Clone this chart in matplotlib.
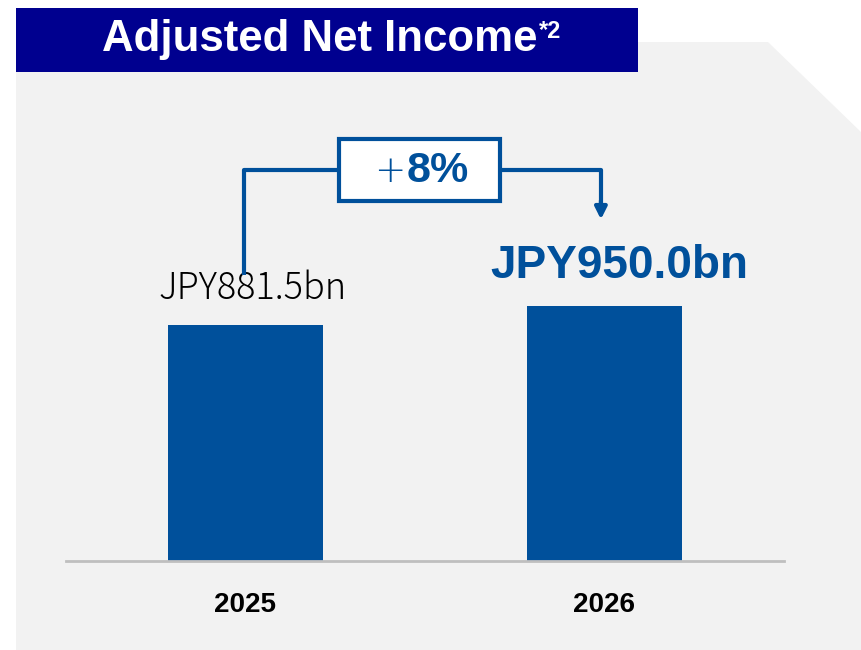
import matplotlib
matplotlib.use("Agg")
import matplotlib.pyplot as plt
from matplotlib.patches import Polygon, Rectangle

# ---- data ----
years = ["2025", "2026"]
values = [881.5, 950.0]
value_labels = ["JPY881.5bn", "JPY950.0bn"]
growth_label = "8%"
title = "Adjusted Net Income"
title_note = "*2"

BLUE = "#00509b"
NAVY = "#00008f"
GREY = "#f2f2f2"

W, H = 862, 650
fig = plt.figure(figsize=(W / 100, H / 100), dpi=100)
fig.patch.set_facecolor("white")


def fx(px):
    return px / W


def fy(py):
    return 1 - py / H


# grey panel with cut corner
panel = Polygon([(fx(16), fy(42)), (fx(768), fy(42)), (fx(862), fy(133)),
                 (fx(862), fy(650)), (fx(16), fy(650))],
                closed=True, transform=fig.transFigure, facecolor=GREY,
                edgecolor="none", zorder=0)
fig.add_artist(panel)

# title bar
fig.add_artist(Rectangle((fx(16), fy(72)), fx(622), 64 / H,
                         transform=fig.transFigure, facecolor=NAVY,
                         edgecolor="none", zorder=1))
fig.text(fx(538), fy(40), title, color="white", fontsize=31.5,
         fontweight="bold", family="Liberation Sans", ha="right", va="center")
fig.text(fx(539), fy(31), title_note, color="white", fontsize=17,
         fontweight="bold", family="Liberation Sans", ha="left", va="center")

# axes: baseline at y=561, x from 66 to 784
ax = fig.add_axes([fx(66), fy(561), fx(718), (561 - 42) / H])
ax.set_facecolor("none")
x = list(range(len(years)))
ax.bar(x, values, width=0.43, color=BLUE, zorder=2)
ax.set_xlim(-0.5, 1.5)
ax.set_ylim(0, 1937)
for s in ["top", "right", "left"]:
    ax.spines[s].set_visible(False)
ax.spines["bottom"].set_color("#bfbfbf")
ax.spines["bottom"].set_linewidth(2)
ax.set_yticks([])
ax.set_xticks(x)
ax.set_xticklabels(years, fontsize=20, fontweight="bold",
                   family="Liberation Sans")
ax.tick_params(axis="x", length=0, pad=22)

# value labels
ax.text(x[0] + 0.02, values[0] + 95, value_labels[0], ha="center",
        va="baseline", fontsize=26, fontweight="light", color="black",
        family=["Noto Sans CJK JP", "DejaVu Sans"])
ax.text(x[1] + 0.04, values[1] + 105, value_labels[1], ha="center",
        va="baseline", fontsize=33, fontweight="bold", color=BLUE,
        family="Liberation Sans")

# growth bracket
yb = 1460
lkw = dict(color=BLUE, lw=3, solid_capstyle="butt", zorder=3)
ax.plot([x[0] - 0.005, x[0] - 0.005, 0.26], [values[0] + 185, yb, yb], **lkw)
ax.plot([0.71, x[1] - 0.01, x[1] - 0.01], [yb, yb, 1335], **lkw)
ax.annotate("", xy=(x[1] - 0.01, 1275), xytext=(x[1] - 0.01, 1345),
            arrowprops=dict(arrowstyle="-|>,head_width=0.35,head_length=0.7",
                            color=BLUE, lw=3, shrinkA=0, shrinkB=0))
box = Rectangle((0.26, 1345), 0.45, 230, facecolor="white", edgecolor=BLUE,
                lw=3, zorder=4)
ax.add_patch(box)
ax.text(0.445, yb - 5, "+", ha="right", va="center", fontsize=27,
        color=BLUE, family="DejaVu Sans", fontweight="light", zorder=5)
ax.text(0.448, yb - 5, growth_label, ha="left", va="center", fontsize=31,
        fontweight="bold", color=BLUE, family="Liberation Sans", zorder=5)

fig.savefig("out.png", dpi=100)
